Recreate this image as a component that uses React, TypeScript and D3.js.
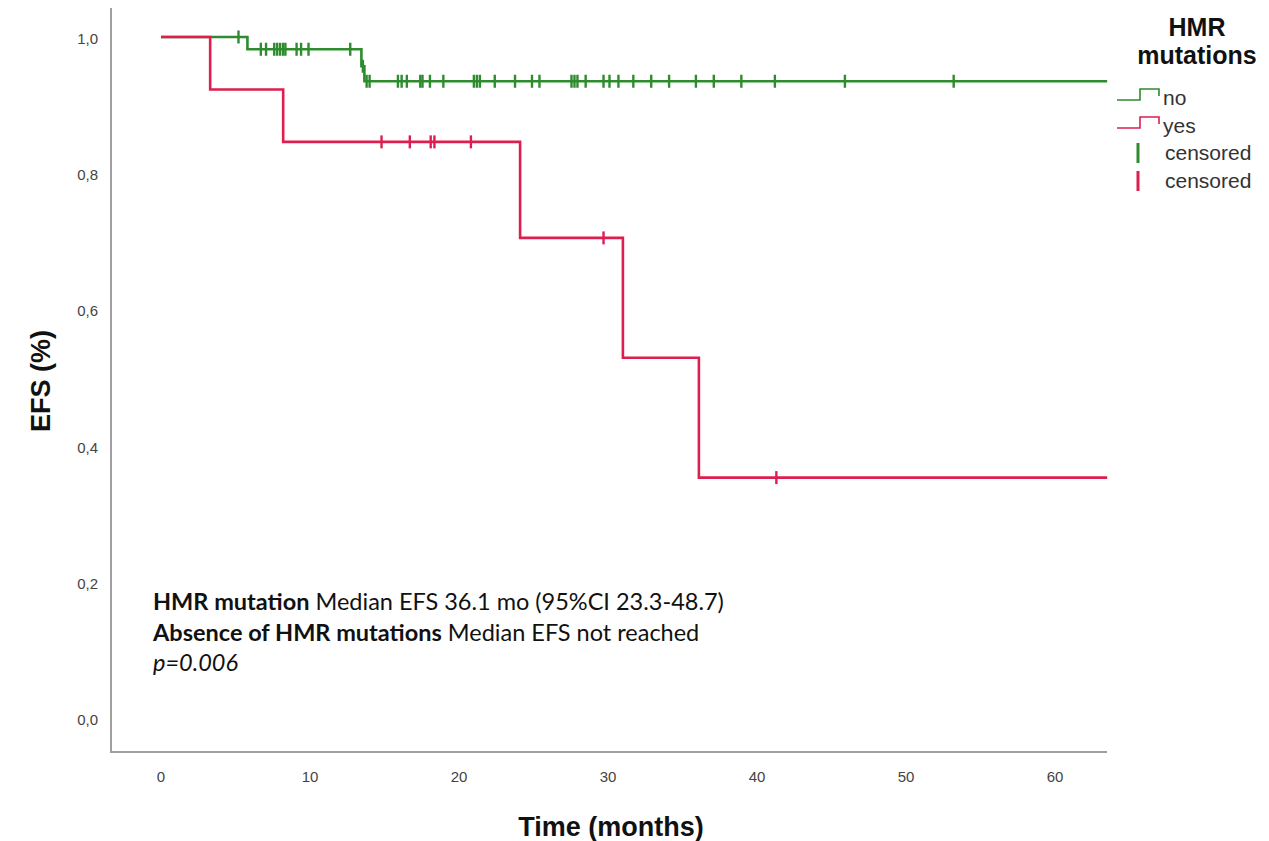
import React from "react";
import * as d3 from "d3";

const groupLabels = ["no", "yes"];
const groupColors = ["#2e8b2e", "#dc1f4e"];
const endTime = 63.5;

const noEventTimes = [5.8, 13.45, 13.65];
const noEventSurv = [0.982, 0.957, 0.935];
const noCensorTimes = [
  5.2, 6.7, 7.05, 7.6, 7.8, 8.0, 8.2, 8.35, 9.1, 9.4, 9.9, 12.7, 13.55, 13.8, 14.0,
  15.9, 16.15, 16.5, 17.4, 17.55, 18.05, 18.95, 21.0, 21.2, 21.4, 22.4, 23.76, 24.9,
  25.4, 27.55, 27.75, 27.95, 28.5, 29.7, 30.1, 30.7, 31.7, 32.9, 34.1, 35.9, 37.1,
  38.95, 41.2, 45.9, 53.2,
];

const yesEventTimes = [3.3, 8.2, 24.1, 31.0, 36.1];
const yesEventSurv = [0.923, 0.846, 0.705, 0.529, 0.353];
const yesCensorTimes = [14.8, 16.7, 18.1, 18.35, 20.8, 29.7, 41.3];

const xTicks = [0, 10, 20, 30, 40, 50, 60];
const yTicks = [0, 0.2, 0.4, 0.6, 0.8, 1.0];

const annotationLines = [
  { bold: "HMR mutation", rest: " Median EFS 36.1 mo (95%CI 23.3-48.7)" },
  { bold: "Absence of HMR mutations", rest: " Median EFS not reached" },
];
const pText = "p=0.006";

const x = d3.scaleLinear().domain([0, 60]).range([161, 1055]);
const y = d3.scaleLinear().domain([0, 1]).range([718, 37]);

function survAt(times: number[], surv: number[], t: number) {
  let s = 1;
  for (let i = 0; i < times.length; i++) if (times[i] <= t) s = surv[i];
  return s;
}

function stepPoints(times: number[], surv: number[]): [number, number][] {
  const pts: [number, number][] = [[0, 1]];
  times.forEach((t, i) => pts.push([t, surv[i]]));
  pts.push([endTime, surv[surv.length - 1]]);
  return pts;
}

const line = d3
  .line<[number, number]>()
  .x((d) => x(d[0]))
  .y((d) => y(d[1]))
  .curve(d3.curveStepAfter);

const series = [
  { times: noEventTimes, surv: noEventSurv, censors: noCensorTimes, color: groupColors[0] },
  { times: yesEventTimes, surv: yesEventSurv, censors: yesCensorTimes, color: groupColors[1] },
];

const fmt = (v: number) => d3.format(".1f")(v).replace(".", ",");

export default function App() {
  const axisColor = "#a0a0a0";
  const tickColor = "#444";
  const font = "Liberation Sans, Arial, sans-serif";
  const annFont = "Lato, 'Open Sans', sans-serif";
  return (
    <svg width={1269} height={841} style={{ position: "absolute", left: 0, top: 0, background: "#fff" }}>
      {/* axes */}
      <line x1={111} x2={111} y1={8} y2={752} stroke={axisColor} strokeWidth={2} />
      <line x1={110} x2={1107} y1={752} y2={752} stroke={axisColor} strokeWidth={2} />
      {yTicks.map((t) => (
        <text key={t} x={98} y={y(t) + 7} textAnchor="end" fontFamily={font} fontSize={15} fill={tickColor}>
          {fmt(t)}
        </text>
      ))}
      {xTicks.map((t) => (
        <text key={t} x={x(t)} y={782} textAnchor="middle" fontFamily={font} fontSize={15} fill={tickColor}>
          {t}
        </text>
      ))}
      <text
        transform="translate(50,381) rotate(-90)"
        textAnchor="middle"
        fontFamily={font}
        fontWeight="bold"
        fontSize={27}
        fill="#111"
      >
        EFS (%)
      </text>
      <text x={611} y={836} textAnchor="middle" fontFamily={font} fontWeight="bold" fontSize={27} fill="#111">
        Time (months)
      </text>

      {/* curves */}
      {series.map((s, i) => (
        <g key={i}>
          <path d={line(stepPoints(s.times, s.surv)) || ""} fill="none" stroke={s.color} strokeWidth={2.6} />
          {s.censors.map((c, j) => {
            const cy = y(survAt(s.times, s.surv, c));
            return (
              <line key={j} x1={x(c)} x2={x(c)} y1={cy - 6.5} y2={cy + 6.5} stroke={s.color} strokeWidth={2.4} />
            );
          })}
        </g>
      ))}

      {/* annotation */}
      {annotationLines.map((l, i) => (
        <text key={i} x={153} y={610 + i * 31} fontFamily={annFont} fontSize={23.5} fill="#111">
          <tspan fontWeight="bold">{l.bold}</tspan>
          <tspan>{l.rest}</tspan>
        </text>
      ))}
      <text x={153} y={671} fontFamily={annFont} fontSize={23.5} fontStyle="italic" fill="#111">
        {pText}
      </text>

      {/* legend */}
      <text x={1197} y={36} textAnchor="middle" fontFamily={font} fontWeight="bold" fontSize={25} fill="#111">
        HMR
      </text>
      <text x={1197} y={64} textAnchor="middle" fontFamily={font} fontWeight="bold" fontSize={25} fill="#111">
        mutations
      </text>
      {groupLabels.map((g, i) => {
        const by = 100 + i * 28;
        return (
          <g key={g}>
            <path
              d={`M1117,${by} H1140 V${by - 11} H1159 V${by - 4}`}
              fill="none"
              stroke={groupColors[i]}
              strokeWidth={1.6}
            />
            <text x={1163} y={by + 5} fontFamily={font} fontSize={21} fill="#333">
              {g}
            </text>
          </g>
        );
      })}
      {groupColors.map((c, i) => {
        const cy = 153 + i * 28;
        return (
          <g key={i}>
            <line x1={1138} x2={1138} y1={cy - 10} y2={cy + 10} stroke={c} strokeWidth={3} />
            <text x={1165} y={cy + 7} fontFamily={font} fontSize={21} fill="#333">
              censored
            </text>
          </g>
        );
      })}
    </svg>
  );
}
